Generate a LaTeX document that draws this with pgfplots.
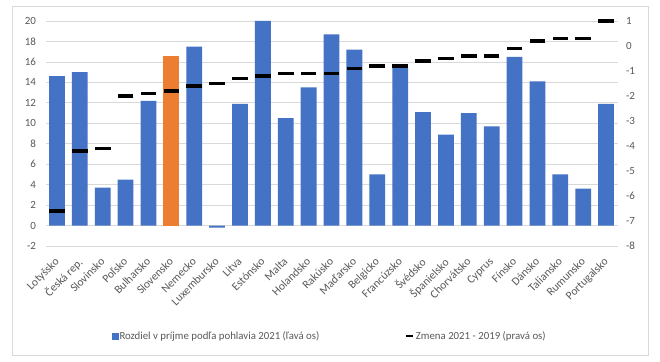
\documentclass[border=0pt]{standalone}
\usepackage{pgfplots}
\pgfplotsset{compat=1.18}
\usepackage{pgfplotstable}
\usepackage{fontspec}
\setmainfont{Carlito}
\definecolor{barblue}{HTML}{4472C4}
\definecolor{barorange}{HTML}{ED7D31}
\definecolor{gridgray}{HTML}{D9D9D9}
\definecolor{txtgray}{HTML}{595959}
\definecolor{framegray}{HTML}{D9D9D9}

\pgfplotstableread{
x blue orange chg
0  14.6 nan -6.6
1  15.0 nan -4.2
2  3.7  nan -4.1
3  4.5  nan -2.0
4  12.2 nan -1.9
5  nan  16.6 -1.8
6  17.5 nan -1.6
7  -0.2 nan -1.5
8  11.9 nan -1.3
9  20.0 nan -1.2
10 10.5 nan -1.1
11 13.5 nan -1.1
12 18.7 nan -1.1
13 17.2 nan -0.9
14 5.0  nan -0.8
15 15.4 nan -0.8
16 11.1 nan -0.6
17 8.9  nan -0.5
18 11.0 nan -0.4
19 9.7  nan -0.4
20 16.5 nan -0.1
21 14.1 nan 0.2
22 5.0  nan 0.3
23 3.6  nan 0.3
24 11.9 nan 1.0
}\data

\begin{document}
\begin{tikzpicture}
\useasboundingbox (0,0) rectangle (660bp,362bp);
\fill[white] (0,0) rectangle (660bp,362bp);
\draw[framegray, line width=0.75bp] (12bp,7bp) rectangle (648bp,356bp);
\begin{axis}[
  at={(45.5bp,116bp)}, anchor=south west, scale only axis,
  width=572bp, height=225bp,
  xmin=-0.5, xmax=24.5, ymin=-2, ymax=20,
  ytick={-2,0,...,20},
  xtick={0,...,24},
  xticklabels={Lotyšsko,Česká rep.,Slovinsko,Poľsko,Bulharsko,Slovensko,Nemecko,Luxembursko,Litva,Estónsko,Malta,Holandsko,Rakúsko,Maďarsko,Belgicko,Francúzsko,Švédsko,Španielsko,Chorvátsko,Cyprus,Fínsko,Dánsko,Taliansko,Rumunsko,Portugalsko},
  axis line style={draw=none}, major tick style={draw=none},
  ymajorgrids, grid style={gridgray, line width=0.75bp},
  yticklabel style={font=\fontsize{11bp}{13bp}\selectfont, text=txtgray, xshift=-6bp},
  xticklabel style={font=\fontsize{11.5bp}{13bp}\selectfont, text=txtgray, inner sep=1bp, xshift=-3bp, yshift=-9bp, rotate=45, anchor=north east},
  /pgf/number format/assume math mode=true,
  clip=false,
]
\addplot[ybar, bar width=0.69, bar shift=0pt, fill=barblue, draw=none] table[x=x, y=blue] {\data};
\addplot[ybar, bar width=0.69, bar shift=0pt, fill=barorange, draw=none] table[x=x, y=orange] {\data};
\end{axis}
\begin{axis}[
  at={(45.5bp,116bp)}, anchor=south west, scale only axis,
  width=572bp, height=225bp,
  xmin=-0.5, xmax=24.5, ymin=-8, ymax=1,
  ytick={-8,...,1},
  axis y line*=right, axis x line=none,
  axis line style={draw=none}, major tick style={draw=none},
  yticklabel style={font=\fontsize{11bp}{13bp}\selectfont, text=txtgray, xshift=5bp},
  /pgf/number format/assume math mode=true,
  legend columns=2,
  legend style={at={(0.11,-0.4)}, anchor=west, draw=none, fill=none,
    font=\fontsize{10.8bp}{12bp}\selectfont, text=txtgray,
    /tikz/every even column/.append style={column sep=84bp},
    nodes={inner sep=1.5bp}},
]
\addlegendimage{legend image code/.code={\fill[barblue] (0bp,-3bp) rectangle (6bp,3bp);}}
\addlegendentry{Rozdiel v príjme podľa pohlavia 2021 (ľavá os)}
\addplot[only marks, mark=-, mark size=7.8bp, mark options={line width=3.8bp, black, line cap=butt}, forget plot] table[x=x, y=chg] {\data};
\addlegendimage{legend image code/.code={\draw[black, line width=2.5bp] (0bp,0bp) -- (7bp,0bp);}}
\addlegendentry{Zmena 2021 - 2019 (pravá os)}
\end{axis}
\end{tikzpicture}
\end{document}
